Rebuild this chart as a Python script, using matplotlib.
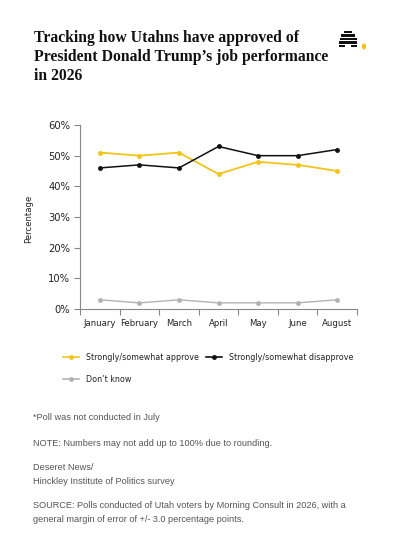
import matplotlib
matplotlib.use("Agg")
import matplotlib.pyplot as plt
from matplotlib.patches import Rectangle, Circle

months = ["January", "February", "March", "April", "May", "June", "August"]
approve = [51, 50, 51, 44, 48, 47, 45]
disapprove = [46, 47, 46, 53, 50, 50, 52]
dont_know = [3, 2, 3, 2, 2, 2, 3]
y_ticks = [0, 10, 20, 30, 40, 50, 60]

YELLOW = "#f0c419"
BLACK = "#111111"
GREY = "#b3b3b3"
NARROW = dict(family=["DejaVu Sans"], fontstretch="condensed")

W, H = 400, 551
fig = plt.figure(figsize=(W / 100, H / 100), dpi=100)


def fx(px):
    return px / W


def fy(py):
    return 1 - py / H


# title, one line per call so baselines are easy to place
title_lines = ["Tracking how Utahns have approved of",
               "President Donald Trump\u2019s job performance",
               "in 2026"]
for py, line in zip([42, 61, 80], title_lines):
    fig.text(fx(34), fy(py), line, family="Liberation Serif", weight="bold",
             fontsize=11.3, va="baseline", ha="left", color="#111111")

# beehive logo (decoration)
stripes = [(344, 31, 8), (341, 34.5, 14), (339.5, 38, 17), (339, 41.5, 18)]
for x0, y0, w in stripes:
    fig.patches.append(Rectangle((fx(x0), fy(y0 + 2.3)), w / W, 2.3 / H,
                                 transform=fig.transFigure, color=BLACK, lw=0))
for x0 in (339, 351):
    fig.patches.append(Rectangle((fx(x0), fy(47.3)), 6 / W, 2.3 / H,
                                 transform=fig.transFigure, color=BLACK, lw=0))
fig.patches.append(Circle((fx(364), fy(46.5)), 2.2 / W,
                          transform=fig.transFigure, color=YELLOW, lw=0))

# main axes
ax = fig.add_axes([fx(80), fy(309), (357 - 80) / W, (309 - 125) / H])
x = list(range(len(months)))
ax.plot(x, dont_know, color=GREY, lw=1.0, marker="o", ms=2.5)
ax.plot(x, approve, color=YELLOW, lw=1.3, marker="o", ms=2.5)
ax.plot(x, disapprove, color=BLACK, lw=1.1, marker="o", ms=2.5)

ax.set_xlim(-0.5, len(months) - 0.5)
ax.set_ylim(0, 60)
ax.set_yticks(y_ticks)
ax.set_yticklabels([f"{v}%" for v in y_ticks], fontsize=8, color="#222222",
                   **NARROW)
ax.set_xticks(x)
ax.set_xticklabels(months, fontsize=6.8, color="#222222", **NARROW)
ax.set_xticks([i - 0.5 for i in range(len(months) + 1)], minor=True)
ax.tick_params(axis="x", which="major", length=0, pad=7)
ax.tick_params(axis="x", which="minor", length=4, color="#888888", width=0.8)
ax.tick_params(axis="y", length=4, color="#888888", width=0.8, pad=3)
for s in ["top", "right"]:
    ax.spines[s].set_visible(False)
for s in ["left", "bottom"]:
    ax.spines[s].set_color("#888888")
    ax.spines[s].set_linewidth(0.8)
ax.set_ylabel("Percentage", fontsize=6.8, color="#222222", **NARROW)
ax.yaxis.set_label_coords(-(80 - 33) / (357 - 80), 0.49)


# legend
def legend_item(x0, y0, color, label):
    fig.lines.append(plt.Line2D([fx(x0), fx(x0 + 16)], [fy(y0), fy(y0)],
                                transform=fig.transFigure, color=color, lw=1.2))
    fig.lines.append(plt.Line2D([fx(x0 + 8)], [fy(y0)], transform=fig.transFigure,
                                color=color, marker="o", ms=2.5))
    fig.text(fx(x0 + 23), fy(y0), label, fontsize=6.4,
             va="center", ha="left", color="#222222", **NARROW)


legend_item(63, 357, YELLOW, "Strongly/somewhat approve")
legend_item(206, 357, BLACK, "Strongly/somewhat disapprove")
legend_item(63, 379, GREY, "Don\u2019t know")

# notes
notes = [
    (417, "*Poll was not conducted in July"),
    (443, "NOTE: Numbers may not add up to 100% due to rounding."),
    (468, "Deseret News/"),
    (481, "Hinckley Institute of Politics survey"),
    (506, "SOURCE: Polls conducted of Utah voters by Morning Consult in 2026, with a"),
    (519, "general margin of error of +/- 3.0 percentage points."),
]
for py, t in notes:
    fig.text(fx(33), fy(py), t, family="Liberation Sans", fontsize=6.55,
             va="center", ha="left", color="#555555")

fig.savefig("out.png", dpi=100)
